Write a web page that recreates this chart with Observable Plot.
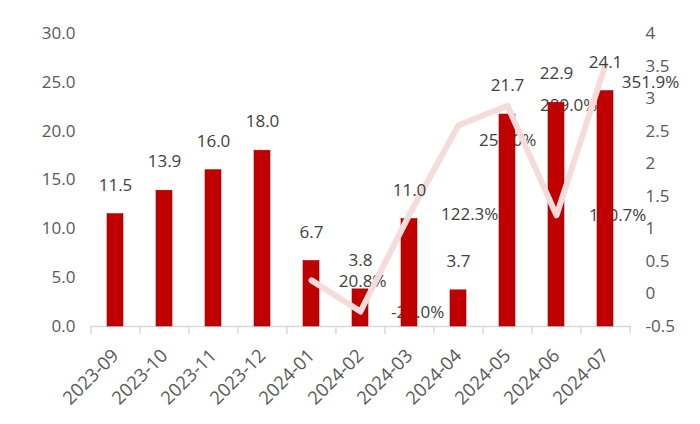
<!DOCTYPE html>
<html>
<head>
<meta charset="utf-8">
<script src="https://cdn.jsdelivr.net/npm/d3@7"></script>
<script src="https://cdn.jsdelivr.net/npm/@observablehq/plot@0.6"></script>
<style>
  html, body { margin: 0; padding: 0; background: #fff; }
  #chart { width: 700px; height: 424px; }
</style>
</head>
<body>
<div id="chart"></div>
<script>
// ---- data ----
const months = ["2023-09","2023-10","2023-11","2023-12","2024-01","2024-02","2024-03","2024-04","2024-05","2024-06","2024-07"];
const barValues = [11.5, 13.9, 16.0, 18.0, 6.7, 3.8, 11.0, 3.7, 21.7, 22.9, 24.1];
const lineMonths = ["2024-01","2024-02","2024-03","2024-04","2024-05","2024-06","2024-07"];
const lineValues = [0.208, -0.270, 1.223, 2.590, 2.890, 1.207, 3.519];
const leftTicks = [0, 5, 10, 15, 20, 25, 30];
const rightTicks = [-0.5, 0, 0.5, 1, 1.5, 2, 2.5, 3, 3.5, 4];

// ---- mapping right axis onto left scale ----
const L0 = 0, L1 = 30, R0 = -0.5, R1 = 4;
const toLeft = v => L0 + (v - R0) * (L1 - L0) / (R1 - R0);
const toRight = v => R0 + (v - L0) * (R1 - R0) / (L1 - L0);

const bars = months.map((m, i) => ({month: m, value: barValues[i]}));
const line = lineMonths.map((m, i) => ({month: m, value: lineValues[i], y: toLeft(lineValues[i])}));

const W = 700, H = 424;
const mL = 90, mR = 69, mT = 33, mB = 98;
const step = (W - mL - mR) / months.length;
const pad = 0.673;

const font = "'Open Sans', sans-serif";
const labelColor = "#404040";
const axisColor = "#595959";

// line label placement (Excel-like offsets, in steps and pixels)
const lineLabelShift = [[0, 2, 1], [0, 8, 1], [0, 11, 0], [1, 0, 15], [1, 12, 0], [1, 12, 0], [0, 45, 18]];
const lineLabelMarks = line.map((d, i) => Plot.text([d], {
  x: "month", y: "y",
  text: d => (d.value * 100).toFixed(1) + "%",
  dx: (i < 3 ? step : 0) + lineLabelShift[i][0] * step + lineLabelShift[i][1],
  dy: lineLabelShift[i][2],
  fill: labelColor, fontSize: 17, fontFamily: font
}));

const chart = Plot.plot({
  width: W, height: H,
  marginLeft: mL, marginRight: mR, marginTop: mT, marginBottom: mB,
  style: {fontFamily: font, background: "#fff"},
  x: {type: "band", domain: months, paddingInner: pad, paddingOuter: pad / 2, label: null},
  y: {domain: [L0, L1], label: null},
  marks: [
    // axis baseline
    Plot.ruleY([0], {stroke: "#d9d9d9", strokeWidth: 1.5}),
    // tick marks at category boundaries
    Plot.ruleX(months, {x: d => d, y1: 0, y2: 0, dx: -step / 2, insetBottom: -8, stroke: "#d9d9d9", strokeWidth: 1.5}),
    Plot.ruleX([months[months.length - 1]], {x: d => d, y1: 0, y2: 0, dx: step / 2, insetBottom: -8, stroke: "#d9d9d9", strokeWidth: 1.5}),
    // line labels (beneath bars as in reference)
    ...lineLabelMarks,
    // bars
    Plot.barY(bars, {x: "month", y: "value", fill: "#c00000", stroke: "#9a0000", strokeWidth: 0.6}),
    // line
    Plot.line(line, {x: "month", y: "y", stroke: "#f4dcdd", strokeWidth: 6, strokeLinecap: "round", strokeLinejoin: "round"}),
    // bar value labels
    Plot.text(bars, {x: "month", y: "value", text: d => d.value.toFixed(1), dy: -29, fill: labelColor, fontSize: 17, fontFamily: font}),
    // axes
    Plot.axisY({anchor: "left", ticks: leftTicks, tickFormat: d => d.toFixed(1), tickSize: 0, tickPadding: 15, fontSize: 17, color: axisColor, label: null}),
    Plot.axisY({anchor: "right", ticks: rightTicks.map(toLeft), tickFormat: d => String(+toRight(d).toFixed(2)), tickSize: 0, tickPadding: 14, fontSize: 17, color: axisColor, label: null, textAnchor: "start"}),
    Plot.axisX({tickRotate: -45, tickSize: 0, tickPadding: 26, fontSize: 18.5, color: axisColor, label: null})
  ]
});
document.getElementById("chart").appendChild(chart);
</script>
</body>
</html>
